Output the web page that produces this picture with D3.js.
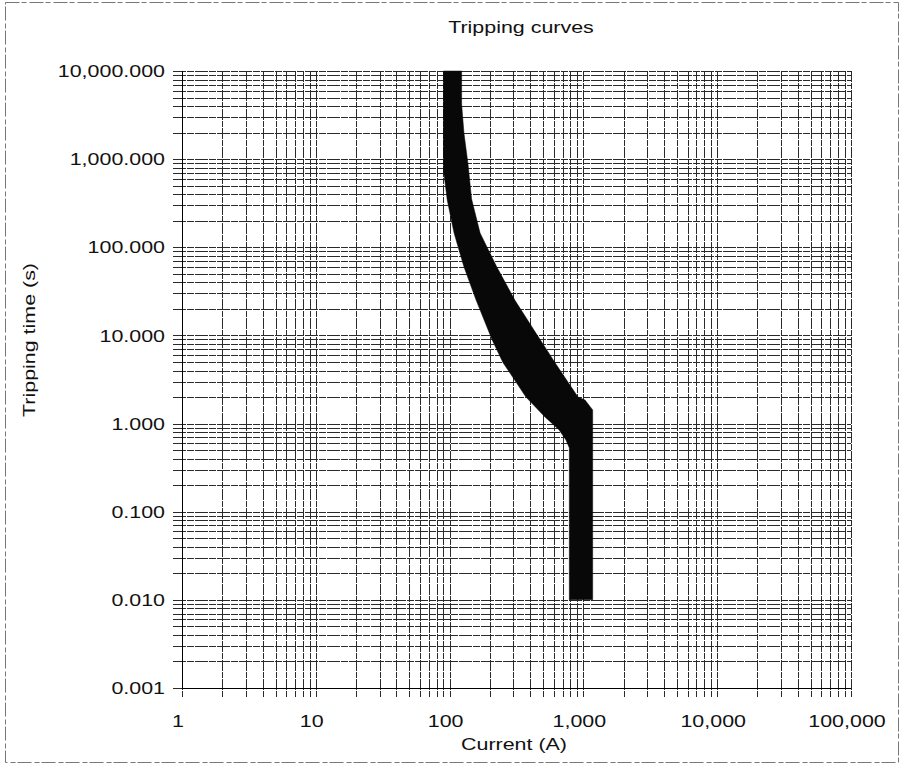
<!DOCTYPE html>
<html>
<head>
<meta charset="utf-8">
<script src="https://cdn.jsdelivr.net/npm/d3@7"></script>
<style>
  html, body { margin: 0; padding: 0; background: #fff; }
  svg { display: block; }
  text { font-family: "Liberation Sans", Arial, sans-serif; fill: #111; }
</style>
</head>
<body>
<svg id="chart" width="904" height="772"></svg>
<script>
// axis decades and labels
var xDecades = [1, 10, 100, 1000, 10000, 100000];
var xTickLabels = ["1", "10", "100", "1,000", "10,000", "100,000"];
var yDecades = [0.001, 0.01, 0.1, 1, 10, 100, 1000, 10000];
var yTickLabels = ["0.001", "0.010", "0.100", "1.000", "10.000", "100.000", "1,000.000", "10,000.000"];

// left edge of the band (minimum trip), top to bottom: [current A, time s]
var minCurve = [[90, 10000], [90, 753], [96, 344], [108, 145], [128, 60], [158, 25],
	[208, 8.9], [251, 4.9], [372, 2.0], [516, 1.19], [657, 0.85], [741, 0.65], [785, 0.53], [785, 0.01]];
// right edge of the band (maximum trip), top to bottom
var maxCurve = [[123, 10000], [123, 4220], [128, 1980], [137, 904], [146, 353], [169, 145],
	[225, 60], [308, 25], [427, 11.5], [614, 4.9], [911, 2.0], [1028, 1.85], [1173, 1.43], [1173, 0.01]];

var plotL = 182, plotT = 71, plotW = 669, plotH = 617;
var stretchK = 1.26;

var svg = d3.select("#chart");

// scanned page border
svg.append("rect")
	.attr("x", 5.5).attr("y", 2.5).attr("width", 893).attr("height", 760)
	.attr("fill", "none").attr("stroke", "#777").attr("stroke-width", 1)
	.attr("stroke-dasharray", "14,2,5,3");

var x = d3.scaleLog().domain([1, 100000]).range([plotL, plotL + plotW]);
var y = d3.scaleLog().domain([0.001, 10000]).range([plotT + plotH, plotT]);

// every 1..9 x 10^k position
function minorTicks(decades) {
	var out = [];
	decades.forEach(function(d, i) {
		if (i === decades.length - 1) { out.push(d); return; }
		for (var m = 1; m < 10; m++) out.push(d * m);
	});
	return out;
}
var xGrid = minorTicks(xDecades), yGrid = minorTicks(yDecades);

var g = svg.append("g").attr("shape-rendering", "crispEdges");

g.selectAll(".vgrid").data(xGrid).enter().append("line")
	.attr("class", "vgrid")
	.attr("x1", function(d) { return Math.round(x(d)) + 0.5; })
	.attr("x2", function(d) { return Math.round(x(d)) + 0.5; })
	.attr("y1", plotT).attr("y2", plotT + plotH + 9)
	.attr("stroke", "#2a2a2a").attr("stroke-width", 1)
	.attr("stroke-dasharray", "11,1,6,1");

g.selectAll(".hgrid").data(yGrid).enter().append("line")
	.attr("class", "hgrid")
	.attr("y1", function(d) { return Math.round(y(d)) + 0.5; })
	.attr("y2", function(d) { return Math.round(y(d)) + 0.5; })
	.attr("x1", plotL - 9).attr("x2", plotL + plotW)
	.attr("stroke", "#2a2a2a").attr("stroke-width", 1)
	.attr("stroke-dasharray", "13,1,7,1");

// axis lines
g.append("line").attr("x1", plotL + 0.5).attr("x2", plotL + 0.5).attr("y1", plotT).attr("y2", plotT + plotH)
	.attr("stroke", "#000");
g.append("line").attr("x1", plotL).attr("x2", plotL + plotW).attr("y1", plotT + plotH + 0.5).attr("y2", plotT + plotH + 0.5)
	.attr("stroke", "#000");

// tripping band
var line = d3.line()
	.x(function(d) { return x(d[0]); })
	.y(function(d) { return y(d[1]); });
var band = line(minCurve) + "L" + line(maxCurve.slice().reverse()).slice(1) + "Z";
svg.append("path").attr("d", band).attr("fill", "#080808").attr("stroke", "#080808")
	.attr("stroke-width", 0.5).attr("stroke-linejoin", "round");

function stretch(sel) {
	sel.each(function() {
		var L = this.getComputedTextLength();
		d3.select(this).attr("textLength", L * stretchK).attr("lengthAdjust", "spacingAndGlyphs");
	});
}

// y tick labels
svg.selectAll(".ylab").data(yDecades).enter().append("text")
	.attr("class", "ylab")
	.attr("x", 165).attr("y", function(d) { return y(d); })
	.attr("dy", "0.36em")
	.attr("text-anchor", "end")
	.style("font-size", "17px")
	.text(function(d, i) { return yTickLabels[i]; })
	.call(stretch);

// x tick labels
svg.selectAll(".xlab").data(xDecades).enter().append("text")
	.attr("class", "xlab")
	.attr("x", function(d) { return x(d) - 4; }).attr("y", 727)
	.attr("text-anchor", "middle")
	.style("font-size", "17px")
	.text(function(d, i) { return xTickLabels[i]; })
	.call(stretch);

svg.append("text").attr("x", 514).attr("y", 750).attr("text-anchor", "middle")
	.style("font-size", "17px").text("Current (A)").call(stretch);

svg.append("text").attr("x", 521).attr("y", 33).attr("text-anchor", "middle")
	.style("font-size", "17px").text("Tripping curves").call(stretch);

svg.append("text").attr("transform", "translate(35,340) rotate(-90)")
	.attr("text-anchor", "middle")
	.style("font-size", "17px").text("Tripping time (s)").call(stretch);
</script>
</body>
</html>
